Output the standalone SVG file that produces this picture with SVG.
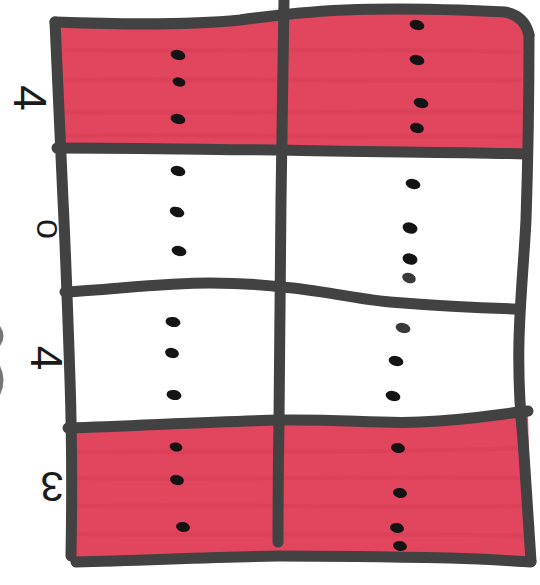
<svg xmlns="http://www.w3.org/2000/svg" width="540" height="585" viewBox="0 0 540 585">
  <style>
    .fill { fill: #e2465f; }
    .streak { fill: none; stroke: #c8304b; stroke-opacity: 0.22; stroke-width: 4; stroke-linecap: round; }
    .line { fill: none; stroke: #424242; stroke-width: 11; stroke-linecap: round; stroke-linejoin: round; }
    .dot { fill: #141414; }
    .dot.gray { fill: #3a3a3a; }
    .lbl { font-family: "Liberation Sans", Arial, sans-serif; fill: #1b1b1b; text-anchor: middle; dominant-baseline: central; }
  </style>
  <rect width="540" height="585" fill="#ffffff"/>

  <g id="fills">
    <path class="fill" d="M55,22 C110,24 180,26 240,20 C262,17 280,15 300,13 C340,9 400,8 460,10 L505,12 Q525,16 529,35 L527,154 C450,152 350,152 281,150 C230,150 150,148 57,148 Z"/>
    <path class="streak" d="M66,50 C200,52 380,48 520,52 M66,80 C200,78 380,82 520,80 M66,112 C200,114 380,110 520,112 M66,136 C200,134 380,138 520,136"/>
    <path class="fill" d="M68,428 C150,425 230,421 281,420 C340,419 380,424 420,422 C470,420 500,414 528,411 L531,562 C510,561 490,559 450,558 C400,557 340,556 278,556 C220,557 150,560 72,562 Z"/>
    <path class="streak" d="M78,452 C200,450 380,454 522,448 M78,478 C200,480 380,476 524,478 M78,506 C200,504 380,508 526,506 M78,534 C200,536 380,532 528,536"/>
  </g>

  <g id="connectors">
    <path class="line" d="M55,22 C110,24 180,26 240,20 C262,17 280,15 300,13 C340,9 400,8 460,10 L505,12 Q525,16 529,35"/>
    <path class="line" d="M55,22 C58,80 60,140 63,200 C66,260 68,320 70,380 C72,440 72,500 71,556"/>
    <path class="line" d="M529,35 C529,100 528,160 526,220 C524,260 520,300 519,340 C518,380 520,410 523,440 C526,480 528,520 531,561"/>
    <path class="line" d="M284,0 C283,60 282,120 281,200 C280,280 280,360 279,420 C278,480 278,520 278,542"/>
    <path class="line" d="M57,148 C150,148 230,150 281,150 C350,152 450,152 527,154"/>
    <path class="line" d="M65,292 C110,290 160,283 210,283 C240,283 265,285 282,287 C320,290 350,298 390,302 C440,306 480,308 517,309"/>
    <path class="line" d="M68,428 C150,425 230,421 281,420 C340,419 380,424 420,422 C470,420 500,414 528,411"/>
    <path class="line" d="M76,562 C150,560 220,557 278,556 C340,556 400,557 450,558 C490,559 510,561 531,562"/>
  </g>

  <g id="dots">
    <ellipse class="dot" cx="178" cy="55" rx="7.5" ry="5" transform="rotate(15 178 55)"/>
    <ellipse class="dot" cx="179" cy="82" rx="6.5" ry="4.5" transform="rotate(15 179 82)"/>
    <ellipse class="dot" cx="178" cy="119" rx="7.5" ry="5" transform="rotate(15 178 119)"/>
    <ellipse class="dot" cx="417" cy="25" rx="7.5" ry="5" transform="rotate(15 417 25)"/>
    <ellipse class="dot" cx="417" cy="60" rx="7.5" ry="5" transform="rotate(15 417 60)"/>
    <ellipse class="dot" cx="421" cy="103" rx="7.5" ry="5" transform="rotate(15 421 103)"/>
    <ellipse class="dot" cx="417" cy="128" rx="7" ry="5" transform="rotate(15 417 128)"/>

    <ellipse class="dot" cx="178" cy="171" rx="7.5" ry="5" transform="rotate(15 178 171)"/>
    <ellipse class="dot" cx="177" cy="212" rx="7.5" ry="5" transform="rotate(20 177 212)"/>
    <ellipse class="dot" cx="179" cy="251" rx="7.5" ry="5" transform="rotate(15 179 251)"/>
    <ellipse class="dot" cx="413" cy="184" rx="7.5" ry="5" transform="rotate(15 413 184)"/>
    <ellipse class="dot" cx="410" cy="228" rx="7.5" ry="5.5" transform="rotate(15 410 228)"/>
    <ellipse class="dot" cx="410" cy="259" rx="7.5" ry="5.5" transform="rotate(15 410 259)"/>
    <ellipse class="dot gray" cx="409" cy="278" rx="7" ry="5" transform="rotate(20 409 278)"/>

    <ellipse class="dot" cx="173" cy="322" rx="7.5" ry="5" transform="rotate(10 173 322)"/>
    <ellipse class="dot" cx="172" cy="353" rx="7" ry="5" transform="rotate(15 172 353)"/>
    <ellipse class="dot" cx="174" cy="395" rx="7.5" ry="5" transform="rotate(10 174 395)"/>
    <ellipse class="dot gray" cx="403" cy="328" rx="7.5" ry="5" transform="rotate(15 403 328)"/>
    <ellipse class="dot" cx="396" cy="361" rx="7.5" ry="5" transform="rotate(15 396 361)"/>
    <ellipse class="dot" cx="393" cy="396" rx="7.5" ry="5" transform="rotate(15 393 396)"/>

    <ellipse class="dot" cx="176" cy="447" rx="6.5" ry="4.5" transform="rotate(10 176 447)"/>
    <ellipse class="dot" cx="177" cy="480" rx="7" ry="5" transform="rotate(15 177 480)"/>
    <ellipse class="dot" cx="183" cy="527" rx="7" ry="5" transform="rotate(10 183 527)"/>
    <ellipse class="dot" cx="398" cy="448" rx="7" ry="5" transform="rotate(10 398 448)"/>
    <ellipse class="dot" cx="400" cy="493" rx="7" ry="5" transform="rotate(10 400 493)"/>
    <ellipse class="dot" cx="397" cy="528" rx="7" ry="5" transform="rotate(10 397 528)"/>
    <ellipse class="dot" cx="400" cy="546" rx="7" ry="5" transform="rotate(10 400 546)"/>
  </g>

  <g id="labels">
    <text class="lbl" font-size="46" transform="translate(30,98) rotate(90)">4</text>
    <text class="lbl" font-size="30" transform="translate(47,229) scale(1,1.2) rotate(90)">0</text>
    <text class="lbl" font-size="44" transform="translate(46,358) rotate(90)">4</text>
    <text class="lbl" font-size="42" transform="translate(52,486) rotate(180)">3</text>
  </g>

  <g id="edge-marks" fill="#3a3a3a" fill-opacity="0.7">
    <path d="M0,326 Q7,336 0,346 Z"/>
    <path d="M0,366 Q7,380 0,395 Z"/>
  </g>
</svg>
